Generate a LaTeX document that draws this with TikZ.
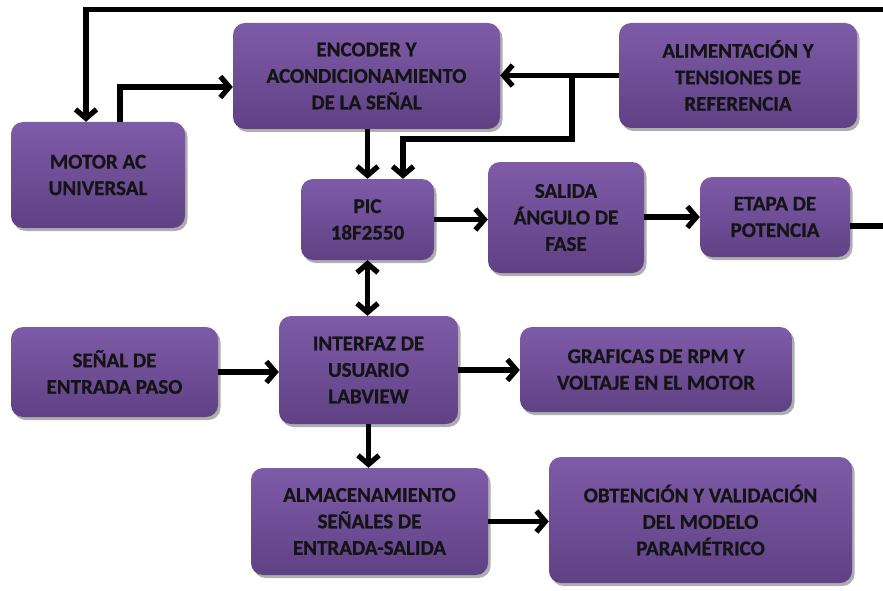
\documentclass[tikz,border=0pt]{standalone}
\usepackage{fontspec}
\setmainfont{Carlito}[BoldFeatures={FakeBold=0.7}]
\usetikzlibrary{arrows.meta,shadows,calc}
\definecolor{boxtop}{HTML}{7E5BA8}
\definecolor{boxbot}{HTML}{5F4184}
\definecolor{txt}{HTML}{141414}
\tikzset{
  blk/.style={rounded corners=12pt, top color=boxtop, bottom color=boxbot,
    draw=none, align=center, text=txt, inner sep=0pt,
    font=\bfseries\fontsize{21}{26.5}\selectfont,
    drop shadow={shadow xshift=2.5pt, shadow yshift=-3pt, fill=black!45, opacity=0.7}},
  wire/.style={line width=5.2pt, black, line join=miter},
  arr/.style={wire, -{Straight Barb[length=9pt,width=21pt]}},
  darr/.style={wire, {Straight Barb[length=9pt,width=21pt]}-{Straight Barb[length=9pt,width=21pt]}}
}
\begin{document}
\begin{tikzpicture}[x=1pt,y=-1pt]
\useasboundingbox (0,0) rectangle (883,591);

% blocks
\node[blk, minimum width=174pt, minimum height=106pt] (motor) at (98,175) {MOTOR AC\\UNIVERSAL};
\node[blk, minimum width=267pt, minimum height=106pt] (enc) at (366.5,76) {ENCODER Y\\ACONDICIONAMIENTO\\DE LA SEÑAL};
\node[blk, minimum width=238pt, minimum height=105pt] (alim) at (738,75.5) {ALIMENTACIÓN Y\\TENSIONES DE\\REFERENCIA};
\node[blk, minimum width=133pt, minimum height=81pt] (pic) at (367.5,219.5) {PIC\\18F2550};
\node[blk, minimum width=156pt, minimum height=111pt] (sal) at (566,217.5) {SALIDA\\ÁNGULO DE\\FASE};
\node[blk, minimum width=150pt, minimum height=80pt] (etapa) at (775,217) {ETAPA DE\\POTENCIA};
\node[blk, minimum width=207pt, minimum height=90pt] (senal) at (114.5,372) {SEÑAL DE\\ENTRADA PASO};
\node[blk, minimum width=179pt, minimum height=108pt] (inter) at (368.5,370) {INTERFAZ DE\\USUARIO\\LABVIEW};
\node[blk, minimum width=272pt, minimum height=85pt] (graf) at (656,369.5) {GRAFICAS DE RPM Y\\VOLTAJE EN EL MOTOR};
\node[blk, minimum width=237pt, minimum height=107pt] (alm) at (369.5,521.5) {ALMACENAMIENTO\\SEÑALES DE\\ENTRADA-SALIDA};
\node[blk, minimum width=303pt, minimum height=126pt] (obt) at (700.5,520) {OBTENCIÓN Y VALIDACIÓN\\DEL MODELO\\PARAMÉTRICO};

% helper points for the routed wires
\coordinate (topR) at (886,9.5);
\coordinate (fbx) at (86,0);
\coordinate (outR) at (886,226);
\coordinate (br) at (572,75.5);
\coordinate (dropY) at (0,139);

% feedback loop back to the motor
\draw[arr] (topR) -| (fbx |- motor.north);
\draw[wire] ([yshift=-9pt]etapa.east) -- (outR);

% motor / encoder / supply
\draw[arr] ([xshift=22pt]motor.north) |- ([yshift=-11pt]enc.west);
\draw[arr] (alim.west) -- (alim.west -| enc.east);
\draw[arr] (br) |- ([xshift=35.5pt]pic.north |- dropY) -- ([xshift=35.5pt]pic.north);
\draw[arr] (enc.south -| pic.north) -- (pic.north);

% PIC outputs
\draw[arr] (pic.east) -- (sal.west |- pic.east);
\draw[arr] (sal.east |- etapa.west) -- (etapa.west);
\draw[darr] (pic.south) -- (pic.south |- inter.north);

% user interface
\draw[arr] (senal.east) -- (senal.east -| inter.west);
\draw[arr] (inter.east) -- (inter.east -| graf.west);
\draw[arr] (inter.south) -- (inter.south |- alm.north);
\draw[arr] (alm.east) -- (alm.east -| obt.west);
\end{tikzpicture}
\end{document}
